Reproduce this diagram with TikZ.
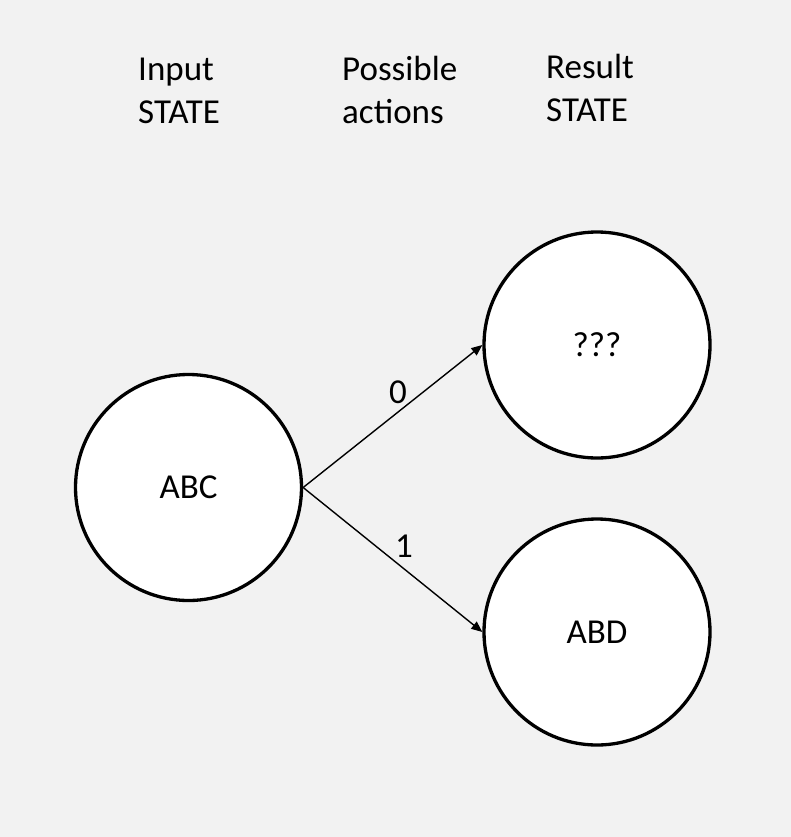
\documentclass[tikz,border=0pt]{standalone}
\usepackage{fontspec}
\setmainfont{Carlito}
\usetikzlibrary{arrows.meta}
\definecolor{bg}{HTML}{F2F2F2}
\begin{document}
\begin{tikzpicture}[x=1bp,y=-1bp,
  every node/.style={font=\fontsize{35bp}{42.5bp}\selectfont, inner sep=0pt},
  state/.style={circle, draw=black, line width=3.3bp, fill=white, minimum size=226bp},
  header/.style={anchor=base west, align=left},
  conn/.style={line width=1.4bp, -{Triangle[length=11bp,width=9bp]}},
  lbl/.style={anchor=center}]
\fill[bg] (0,0) rectangle (791,837);
\useasboundingbox (0,0) rectangle (791,837);
\node[header] (h1) at (138,123) {Input\\STATE};
\node[header] (h2) at (342,123) {Possible\\actions};
\node[header] (h3) at (546,121) {Result\\STATE};
\node[state] (abc) at (188.5,487.5) {ABC};
\node[state] (q) at (597,345) {???};
\node[state] (abd) at (597,632) {ABD};
\draw[conn] (abc.east) -- (q.west);
\draw[conn] (abc.east) -- (abd.west);
\node[lbl] (l0) at (398,392) {0};
\node[lbl] (l1) at (404,546) {1};
\end{tikzpicture}
\end{document}
